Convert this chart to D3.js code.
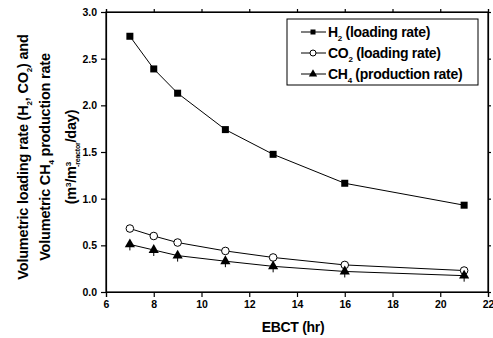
<!DOCTYPE html>
<html>
<head>
<meta charset="utf-8">
<script src="https://cdn.jsdelivr.net/npm/d3@7"></script>
<style>
  body { margin: 0; background: #fff; }
  text { font-family: "Liberation Sans", Arial, sans-serif; font-weight: bold; fill: #000; }
</style>
</head>
<body>
<div id="chart"></div>
<script>
// EBCT (hr)
const ebct = [7, 8, 9, 11, 13, 16, 21];
const h2Loading = [2.74, 2.39, 2.13, 1.74, 1.475, 1.165, 0.93];
const co2Loading = [0.68, 0.60, 0.53, 0.44, 0.37, 0.29, 0.23];
const ch4Production = [0.51, 0.45, 0.39, 0.33, 0.275, 0.22, 0.175];
const xTicks = [6, 8, 10, 12, 14, 16, 18, 20, 22];
const yTicks = [0.0, 0.5, 1.0, 1.5, 2.0, 2.5, 3.0];

const W = 493, H = 338;
const margin = { top: 12, right: 5, bottom: 46, left: 106 };
const width = W - margin.left - margin.right;
const height = H - margin.top - margin.bottom;

const svg = d3.select('#chart').append('svg')
  .attr('width', W)
  .attr('height', H);
const g = svg.append('g')
  .attr('transform', 'translate(' + margin.left + ',' + margin.top + ')');

const x = d3.scaleLinear().domain([6, 22]).range([0, width]);
const y = d3.scaleLinear().domain([0, 3]).range([height, 0]);

// frame
g.append('rect')
  .attr('width', width).attr('height', height)
  .attr('fill', 'none').attr('stroke', '#000').attr('stroke-width', 1.2);

g.append('g')
  .attr('transform', 'translate(0,' + height + ')')
  .call(d3.axisBottom(x).tickValues(xTicks).tickSize(5).tickPadding(4).tickFormat(d3.format('d')));
g.append('g')
  .call(d3.axisLeft(y).tickValues(yTicks).tickSize(5).tickPadding(4).tickFormat(d3.format('.1f')));
// mirrored ticks
g.append('g').call(d3.axisTop(x).tickValues(xTicks).tickSize(3).tickFormat(''));
g.append('g').attr('transform', 'translate(' + width + ',0)')
  .call(d3.axisRight(y).tickValues(yTicks).tickSize(3).tickFormat(''));

g.selectAll('.domain').attr('stroke', '#000').attr('stroke-width', 1.2);
g.selectAll('.tick line').attr('stroke', '#000').attr('stroke-width', 1.2);
g.selectAll('.tick text').style('font-size', '10.5px').style('font-family', '"Liberation Sans", Arial, sans-serif').style('font-weight', 'bold');

const series = [
  { name: 'H2', values: h2Loading, shape: 'square' },
  { name: 'CO2', values: co2Loading, shape: 'circle' },
  { name: 'CH4', values: ch4Production, shape: 'triangle' }
];

const line = d3.line()
  .x(d => x(d[0]))
  .y(d => y(d[1]));

function drawMarker(sel, shape, cx, cy) {
  if (shape === 'square') {
    sel.append('rect').attr('x', cx - 3.5).attr('y', cy - 3.5).attr('width', 7).attr('height', 7).attr('fill', '#000');
  } else if (shape === 'circle') {
    sel.append('circle').attr('cx', cx).attr('cy', cy).attr('r', 3.8).attr('fill', '#fff').attr('stroke', '#000').attr('stroke-width', 1);
  } else {
    // small error whisker under the triangle
    sel.append('line').attr('x1', cx).attr('x2', cx).attr('y1', cy).attr('y2', cy + 6)
      .attr('stroke', '#000').attr('stroke-width', 1);
    sel.append('path').attr('d', d3.symbol().type(d3.symbolTriangle).size(45)())
      .attr('transform', 'translate(' + cx + ',' + cy + ')').attr('fill', '#000');
  }
}

series.forEach(s => {
  const pts = ebct.map((e, i) => [e, s.values[i]]);
  g.append('path').datum(pts)
    .attr('d', line)
    .attr('fill', 'none').attr('stroke', '#000').attr('stroke-width', 1);
  const mg = g.append('g');
  pts.forEach(p => drawMarker(mg, s.shape, x(p[0]), y(p[1])));
});

// legend
const lg = svg.append('g');
lg.append('rect').attr('x', 287).attr('y', 19).attr('width', 191).attr('height', 66)
  .attr('fill', '#fff').attr('stroke', '#000').attr('stroke-width', 1);
const legendItems = [
  { shape: 'square', label: ['H', '2', ' (loading rate)'] },
  { shape: 'circle', label: ['CO', '2', ' (loading rate)'] },
  { shape: 'triangle', label: ['CH', '4', ' (production rate)'] }
];
legendItems.forEach((it, i) => {
  const cy = 32 + i * 21;
  lg.append('line').attr('x1', 301).attr('x2', 326).attr('y1', cy).attr('y2', cy)
    .attr('stroke', '#000').attr('stroke-width', 1);
  const mg = lg.append('g');
  if (it.shape === 'square') {
    mg.append('rect').attr('x', 310.5).attr('y', cy - 2.5).attr('width', 5).attr('height', 5).attr('fill', '#000');
  } else if (it.shape === 'circle') {
    mg.append('circle').attr('cx', 313).attr('cy', cy).attr('r', 3).attr('fill', '#fff').attr('stroke', '#000');
  } else {
    mg.append('path').attr('d', d3.symbol().type(d3.symbolTriangle).size(30)())
      .attr('transform', 'translate(313,' + cy + ')').attr('fill', '#000');
  }
  const t = lg.append('text').attr('x', 328).attr('y', cy + 5)
    .style('font-size', '14px').style('letter-spacing', '-0.3px');
  t.append('tspan').text(it.label[0]);
  t.append('tspan').text(it.label[1]).style('font-size', '8px').attr('dy', 4);
  t.append('tspan').text(it.label[2]).attr('dy', -4);
});

// axis titles
svg.append('text').attr('x', margin.left + width / 2 - 4).attr('y', 332)
  .attr('text-anchor', 'middle').style('font-size', '14px').style('letter-spacing', '-0.3px').text('EBCT (hr)');

const yt = svg.append('g').attr('transform', 'translate(0,157) rotate(-90)');
const l1 = yt.append('text').attr('x', 0).attr('y', 28).attr('text-anchor', 'middle')
  .style('font-size', '14.5px').style('letter-spacing', '-0.2px');
l1.append('tspan').text('Volumetric loading rate (H');
l1.append('tspan').text('2').style('font-size', '8px').attr('dy', 4);
l1.append('tspan').text(', CO').attr('dy', -4);
l1.append('tspan').text('2').style('font-size', '8px').attr('dy', 4);
l1.append('tspan').text(') and').attr('dy', -4);

const l2 = yt.append('text').attr('x', 0).attr('y', 50).attr('text-anchor', 'middle')
  .style('font-size', '14.5px').style('letter-spacing', '-0.2px');
l2.append('tspan').text('Volumetric CH');
l2.append('tspan').text('4').style('font-size', '8px').attr('dy', 4);
l2.append('tspan').text(' production rate').attr('dy', -4);

const l3 = yt.append('text').attr('x', 0).attr('y', 76).attr('text-anchor', 'middle')
  .style('font-size', '14.5px').style('letter-spacing', '-0.2px');
l3.append('tspan').text('(m');
l3.append('tspan').text('3').style('font-size', '8px').attr('dy', -5);
l3.append('tspan').text('/m').attr('dy', 5);
l3.append('tspan').text('3').style('font-size', '8px').attr('dy', -5);
l3.append('tspan').text('-reactor').style('font-size', '7px').attr('dy', 9).attr('dx', -5);
l3.append('tspan').text('/day)').attr('dy', -4);
</script>
</body>
</html>
